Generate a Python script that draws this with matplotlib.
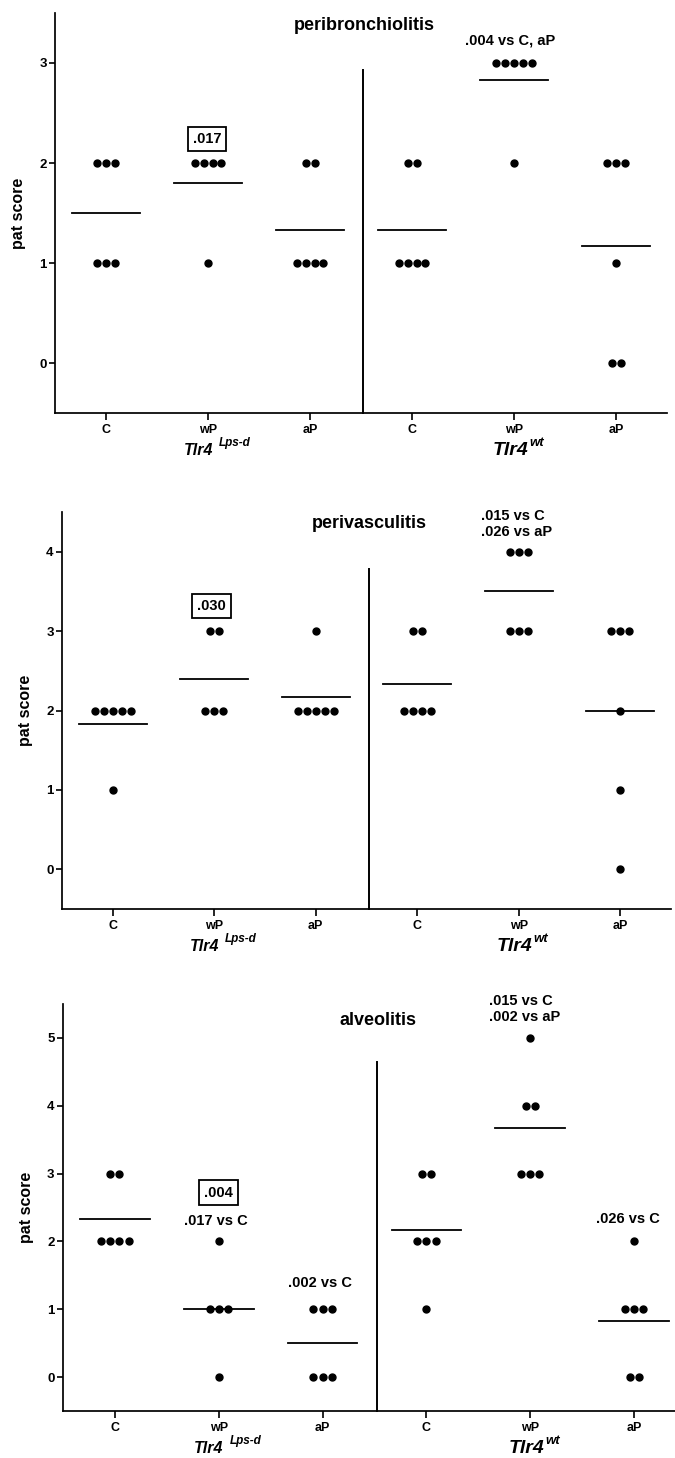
import numpy as np
import matplotlib
matplotlib.use('Agg')
from matplotlib import pyplot as plt

plt.rcParams['font.family'] = ['Liberation Sans', 'DejaVu Sans']
plt.rcParams['font.weight'] = 'bold'

groups = ['C', 'wP', 'aP', 'C', 'wP', 'aP']

# pat scores per group: Tlr4 Lps-d C, wP, aP, then Tlr4 wt C, wP, aP
peribronchiolitis = [[2, 2, 2, 1, 1, 1], [2, 2, 2, 2, 1], [2, 2, 1, 1, 1, 1],
                     [2, 2, 1, 1, 1, 1], [3, 3, 3, 3, 3, 2], [2, 2, 2, 1, 0, 0]]
perivasculitis = [[2, 2, 2, 2, 2, 1], [3, 3, 2, 2, 2], [3, 2, 2, 2, 2, 2],
                  [3, 3, 2, 2, 2, 2], [4, 4, 4, 3, 3, 3], [3, 3, 3, 2, 1, 0]]
alveolitis = [[3, 3, 2, 2, 2, 2], [2, 1, 1, 1, 0], [1, 1, 1, 0, 0, 0],
              [3, 3, 2, 2, 2, 1], [5, 4, 4, 3, 3, 3], [2, 1, 1, 1, 0, 0]]


def setup(ax, data, title, title_y, ymax, div_top):
    for i, vals in enumerate(data):
        x = i + 1
        for v in sorted(set(vals), reverse=True):
            n = vals.count(v)
            xs = x + (np.arange(n) - (n - 1) / 2) * 0.088
            ax.plot(xs, [v] * n, 'o', color='black', ms=5, zorder=3)
        m = np.mean(vals)
        ax.plot([x - 0.335, x + 0.335], [m, m], color='black', lw=1.3, zorder=2)
    ax.plot([3.52, 3.52], [-0.5, div_top], color='black', lw=1.4, clip_on=False)
    ax.set_xlim(0.5, 6.5)
    ax.set_ylim(-0.5, ymax + 0.5)
    ax.set_yticks(range(0, ymax + 1))
    ax.set_xticks(range(1, 7))
    ax.set_xticklabels(groups, fontsize=9, fontweight='bold')
    ax.tick_params(axis='y', labelsize=9.5, length=4, width=1.2, direction='out', pad=2)
    ax.tick_params(axis='x', length=5, width=1.2, direction='out', pad=3)
    for s in ['top', 'right']:
        ax.spines[s].set_visible(False)
    for s in ['left', 'bottom']:
        ax.spines[s].set_linewidth(1.25)
    ax.set_ylabel('pat score', fontsize=11.5, fontweight='bold')
    ax.yaxis.set_label_coords(-0.047, 0.5)
    ax.text(3.53, title_y, title, ha='center', va='center', fontsize=13, fontweight='bold')

    tr = ax.get_xaxis_transform()
    dy = 37
    ax.annotate('Tlr4', xy=(2, 0), xycoords=tr, xytext=(5, -dy), textcoords='offset pixels',
                ha='right', va='center', style='italic', fontsize=11.5, fontweight='bold')
    ax.annotate('Lps-d', xy=(2, 0), xycoords=tr, xytext=(11, -dy + 7), textcoords='offset pixels',
                ha='left', va='center', style='italic', fontsize=8.5, fontweight='bold')
    ax.annotate('Tlr4', xy=(5, 0), xycoords=tr, xytext=(14, -dy), textcoords='offset pixels',
                ha='right', va='center', style='italic', fontsize=14, fontweight='bold')
    ax.annotate('wt', xy=(5, 0), xycoords=tr, xytext=(15, -dy + 7), textcoords='offset pixels',
                ha='left', va='center', style='italic', fontsize=9.5, fontweight='bold')


def note(ax, x, y, s, box=False):
    kw = dict(ha='center', va='center', fontsize=10.5, fontweight='bold', multialignment='left')
    if box:
        kw['bbox'] = dict(boxstyle='square,pad=0.35', fc='white', ec='black', lw=1.3)
    ax.text(x, y, s, **kw)


fig = plt.figure(figsize=(6.75, 14.58), dpi=100)

ax1 = fig.add_axes([0.0815, 0.7167, 0.9067, 0.2744])
setup(ax1, peribronchiolitis, 'peribronchiolitis', 3.37, 3, 2.93)
note(ax1, 4.96, 3.22, '.004 vs C, aP')
note(ax1, 1.99, 2.24, '.017', box=True)

ax2 = fig.add_axes([0.0919, 0.3765, 0.9022, 0.2723])
setup(ax2, perivasculitis, 'perivasculitis', 4.36, 4, 3.78)
note(ax2, 4.98, 4.35, '.015 vs C\n.026 vs aP')
note(ax2, 1.97, 3.32, '.030', box=True)

ax3 = fig.add_axes([0.0933, 0.0322, 0.923, 0.2792])
setup(ax3, alveolitis, 'alveolitis', 5.26, 5, 4.645)
note(ax3, 4.95, 5.43, '.015 vs C\n.002 vs aP')
note(ax3, 2.0, 2.72, '.004', box=True)
note(ax3, 1.97, 2.30, '.017 vs C')
note(ax3, 2.98, 1.39, '.002 vs C')
note(ax3, 5.94, 2.33, '.026 vs C')

fig.savefig('out.png', dpi=100)
